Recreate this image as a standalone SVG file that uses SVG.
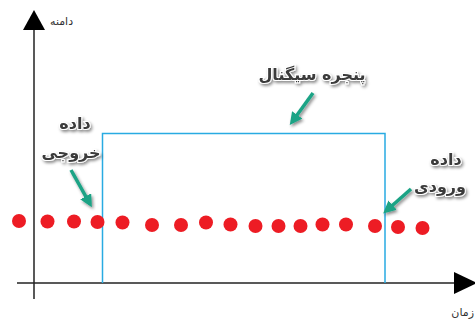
<svg xmlns="http://www.w3.org/2000/svg" width="475" height="320" viewBox="0 0 475 320">
  <defs>
    <filter id="soft" x="-20%" y="-30%" width="150%" height="170%">
      <feDropShadow dx="1.5" dy="2" stdDeviation="1.5" flood-color="#000" flood-opacity="0.45"/>
    </filter>
    <marker id="tealHead" viewBox="0 0 10 10" refX="7" refY="5" markerWidth="3.6" markerHeight="3.6" orient="auto" markerUnits="strokeWidth">
      <path d="M0,0 L10,5 L0,10 Z" fill="#1aa385"/>
    </marker>
  </defs>
  <style>
    .axis { stroke: #222; stroke-width: 1.5; fill: none; }
    .axisHead { fill: #000; }
    .axisLabel { font-family: "DejaVu Sans", "Noto Sans", sans-serif; font-size: 11px; fill: #333; }
    .window { stroke: #29abe2; stroke-width: 1.5; fill: none; }
    .dot { fill: #ed1c24; }
    .callout { font-family: "DejaVu Sans", "Noto Sans", sans-serif; font-size: 16px; font-weight: bold; fill: #3a3a3a; stroke: #fff; stroke-width: 2; paint-order: stroke; text-anchor: middle; filter: url(#soft); }
    .pointer { stroke: #1aa385; stroke-width: 3.5; fill: none; marker-end: url(#tealHead); filter: url(#soft); }
  </style>

  <rect width="475" height="320" fill="#fff"/>

  <!-- axes -->
  <g id="amplitude-axis">
    <line class="axis" x1="34" y1="28" x2="34" y2="299"/>
    <polygon class="axisHead" points="34,10 23,30 45,30"/>
    <text class="axisLabel" x="50" y="25" direction="rtl" text-anchor="end">دامنه</text>
  </g>
  <g id="time-axis">
    <line class="axis" x1="17" y1="283" x2="456" y2="283"/>
    <polygon class="axisHead" points="454,272 454,294 477,283"/>
    <text class="axisLabel" x="474" y="316" text-anchor="end">زمان</text>
  </g>

  <!-- signal window -->
  <g id="window">
    <path class="window" d="M102.5,283 V133.5 H385 V283"/>
  </g>

  <!-- samples -->
  <g id="samples">
    <circle class="dot" cx="19" cy="221" r="7"/>
    <circle class="dot" cx="47.5" cy="221.5" r="7"/>
    <circle class="dot" cx="74" cy="221.5" r="7"/>
    <circle class="dot" cx="97.5" cy="222" r="7"/>
    <circle class="dot" cx="122.5" cy="222.5" r="7"/>
    <circle class="dot" cx="152" cy="225" r="7"/>
    <circle class="dot" cx="181" cy="225" r="7"/>
    <circle class="dot" cx="206" cy="222.5" r="7"/>
    <circle class="dot" cx="230.5" cy="224.5" r="7"/>
    <circle class="dot" cx="255.5" cy="226" r="7"/>
    <circle class="dot" cx="278.5" cy="226" r="7"/>
    <circle class="dot" cx="300.5" cy="226" r="7"/>
    <circle class="dot" cx="322.5" cy="224.5" r="7"/>
    <circle class="dot" cx="346" cy="224.5" r="7"/>
    <circle class="dot" cx="375" cy="226" r="7"/>
    <circle class="dot" cx="398" cy="227" r="7"/>
    <circle class="dot" cx="422.5" cy="228" r="7"/>
  </g>

  <!-- callouts -->
  <g id="window-label">
    <text class="callout" x="312" y="80">پنجره سیگنال</text>
  </g>
  <g id="output-label">
    <text class="callout" x="75" y="129">داده</text>
    <text class="callout" x="71" y="158">خروجی</text>
  </g>
  <g id="input-label">
    <text class="callout" x="446" y="165">داده</text>
    <text class="callout" x="440" y="192">ورودی</text>
  </g>

  <!-- pointers -->
  <g id="connectors">
    <line class="pointer" x1="313" y1="93" x2="292" y2="122"/>
    <line class="pointer" x1="71" y1="170" x2="90" y2="204"/>
    <line class="pointer" x1="411" y1="189" x2="386" y2="211"/>
  </g>
</svg>
